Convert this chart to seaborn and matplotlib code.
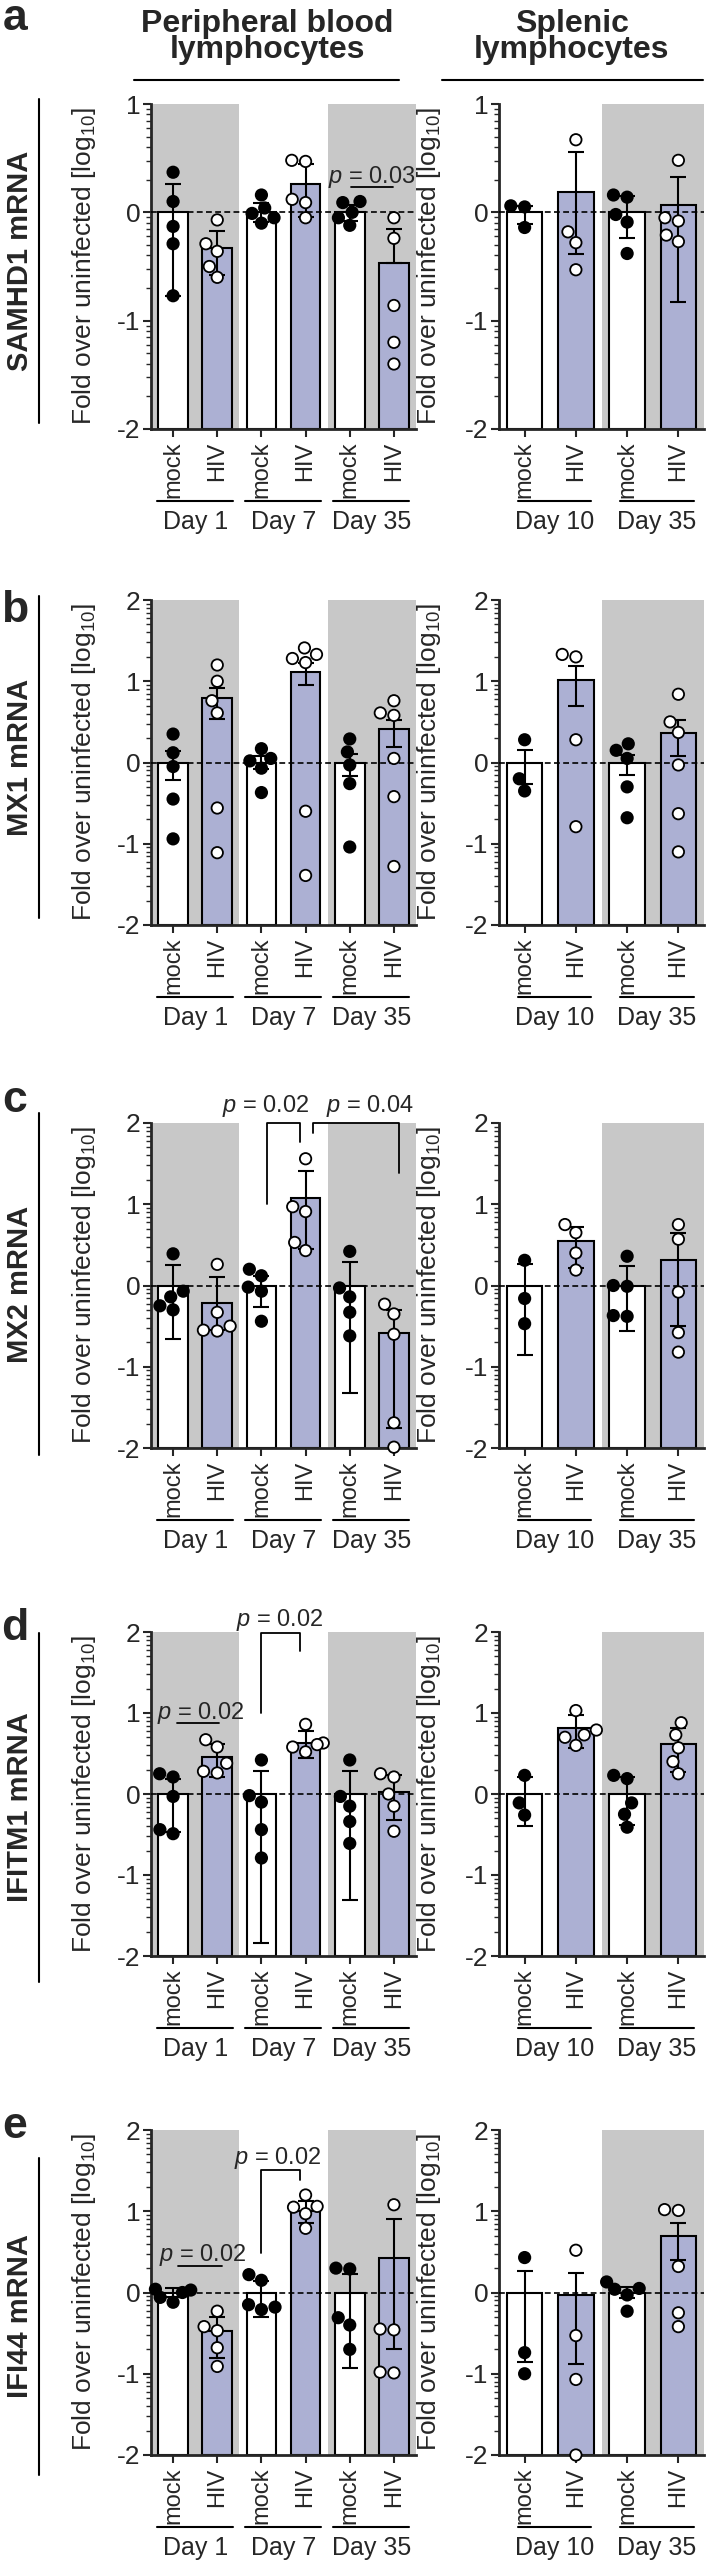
import numpy as np
import pandas as pd
import seaborn as sns
import matplotlib.pyplot as plt
import matplotlib.transforms as mtransforms
from matplotlib.lines import Line2D

# -----------------------
# Data (log10 fold over uninfected)
# -----------------------
blood_groups = ["mock", "HIV", "mock", "HIV", "mock", "HIV"]
blood_days = ["Day 1", "Day 7", "Day 35"]
spleen_groups = ["mock", "HIV", "mock", "HIV"]
spleen_days = ["Day 10", "Day 35"]
genes = ["SAMHD1 mRNA", "MX1 mRNA", "MX2 mRNA", "IFITM1 mRNA", "IFI44 mRNA"]
panel_letters = ["a", "b", "c", "d", "e"]

# SAMHD1
samhd1_blood_mean = [0, -0.33, 0, 0.26, 0, -0.47]
samhd1_blood_lo = [-0.77, -0.58, -0.09, -0.04, -0.08, -0.47]
samhd1_blood_hi = [0.26, -0.17, 0.09, 0.45, 0.07, -0.15]
samhd1_blood_pts = [[0.37, 0.10, -0.13, -0.29, -0.77],
                    [-0.07, -0.29, -0.36, -0.50, -0.60],
                    [0.16, 0.04, -0.01, -0.05, -0.10],
                    [0.48, 0.47, 0.12, 0.09, -0.05],
                    [0.10, 0.09, 0.00, -0.05, -0.12],
                    [-0.05, -0.24, -0.86, -1.20, -1.40]]
samhd1_spleen_mean = [0, 0.19, 0, 0.07]
samhd1_spleen_lo = [-0.11, -0.38, -0.24, -0.83]
samhd1_spleen_hi = [0.06, 0.56, 0.15, 0.33]
samhd1_spleen_pts = [[0.06, 0.05, -0.14],
                     [0.67, -0.18, -0.28, -0.53],
                     [0.16, 0.14, -0.02, -0.09, -0.38],
                     [0.48, -0.05, -0.08, -0.21, -0.27]]

# MX1
mx1_blood_mean = [0, 0.79, 0, 1.12, 0, 0.41]
mx1_blood_lo = [-0.22, 0.54, -0.08, 0.95, -0.17, 0.19]
mx1_blood_hi = [0.14, 0.92, 0.08, 1.23, 0.11, 0.52]
mx1_blood_pts = [[0.35, 0.12, -0.05, -0.45, -0.94],
                 [1.20, 1.00, 0.76, 0.61, -0.56, -1.11],
                 [0.17, 0.05, 0.02, -0.07, -0.37],
                 [1.41, 1.33, 1.28, 1.23, -0.60, -1.39],
                 [0.29, 0.13, -0.03, -0.26, -1.04],
                 [0.76, 0.61, 0.58, 0.05, -0.42, -1.28]]
mx1_spleen_mean = [0, 1.02, 0, 0.36]
mx1_spleen_lo = [-0.27, 0.70, -0.15, 0.08]
mx1_spleen_hi = [0.15, 1.19, 0.09, 0.52]
mx1_spleen_pts = [[0.28, -0.20, -0.35],
                  [1.33, 1.30, 0.28, -0.79],
                  [0.23, 0.15, 0.05, -0.30, -0.68],
                  [0.84, 0.50, 0.37, -0.03, -0.63, -1.10]]

# MX2
mx2_blood_mean = [0, -0.21, 0, 1.08, 0, -0.59]
mx2_blood_lo = [-0.66, -0.55, -0.26, 0.45, -1.32, -1.75]
mx2_blood_hi = [0.25, 0.10, 0.12, 1.41, 0.29, -0.30]
mx2_blood_pts = [[0.39, -0.07, -0.14, -0.25, -0.30],
                 [0.26, -0.33, -0.50, -0.55, -0.56],
                 [0.20, 0.12, -0.02, -0.07, -0.44],
                 [1.56, 0.97, 0.91, 0.53, 0.43],
                 [0.42, -0.03, -0.14, -0.33, -0.62],
                 [-0.23, -0.35, -0.60, -1.69, -1.99]]
mx2_spleen_mean = [0, 0.55, 0, 0.32]
mx2_spleen_lo = [-0.85, 0.22, -0.56, -0.50]
mx2_spleen_hi = [0.27, 0.72, 0.24, 0.65]
mx2_spleen_pts = [[0.31, -0.16, -0.47],
                  [0.75, 0.65, 0.40, 0.19],
                  [0.36, 0.00, -0.01, -0.37, -0.38],
                  [0.75, 0.57, -0.08, -0.58, -0.82]]

# IFITM1
ifitm1_blood_mean = [0, 0.46, 0, 0.63, 0, 0.03]
ifitm1_blood_lo = [-0.47, 0.21, -1.84, 0.44, -1.31, -0.32]
ifitm1_blood_hi = [0.19, 0.62, 0.29, 0.78, 0.29, 0.23]
ifitm1_blood_pts = [[0.25, 0.21, -0.03, -0.44, -0.49],
                    [0.67, 0.58, 0.38, 0.28, 0.26],
                    [0.42, -0.02, -0.10, -0.44, -0.79],
                    [0.86, 0.63, 0.61, 0.58, 0.52],
                    [0.42, -0.03, -0.15, -0.34, -0.61],
                    [0.25, 0.21, 0.00, -0.15, -0.46]]
ifitm1_spleen_mean = [0, 0.82, 0, 0.62]
ifitm1_spleen_lo = [-0.40, 0.57, -0.38, 0.27]
ifitm1_spleen_hi = [0.21, 0.97, 0.21, 0.82]
ifitm1_spleen_pts = [[0.23, -0.11, -0.26],
                     [1.03, 0.79, 0.73, 0.70, 0.60],
                     [0.23, 0.19, -0.11, -0.25, -0.41],
                     [0.88, 0.73, 0.57, 0.40, 0.25]]

# IFI44
ifi44_blood_mean = [0, -0.47, 0, 1.00, 0, 0.42]
ifi44_blood_lo = [-0.05, -0.81, -0.30, 0.85, -0.93, -0.70]
ifi44_blood_hi = [0.05, -0.30, 0.14, 1.13, 0.23, 0.91]
ifi44_blood_pts = [[0.04, 0.03, 0.00, -0.06, -0.12],
                   [-0.23, -0.42, -0.47, -0.68, -0.91],
                   [0.22, 0.15, -0.15, -0.18, -0.21],
                   [1.20, 1.06, 1.05, 0.97, 0.79],
                   [0.30, 0.29, -0.31, -0.40, -0.70],
                   [1.08, -0.45, -0.46, -0.98, -0.99]]
ifi44_spleen_mean = [0, -0.03, 0, 0.69]
ifi44_spleen_lo = [-0.85, -0.88, -0.07, 0.40]
ifi44_spleen_hi = [0.26, 0.24, 0.07, 0.85]
ifi44_spleen_pts = [[0.43, -0.74, -1.00],
                    [0.52, -0.53, -1.07, -2.00],
                    [0.13, 0.05, 0.04, -0.03, -0.23],
                    [1.02, 1.01, 0.32, -0.25, -0.42]]

blood_sets = [
    (samhd1_blood_mean, samhd1_blood_lo, samhd1_blood_hi, samhd1_blood_pts),
    (mx1_blood_mean, mx1_blood_lo, mx1_blood_hi, mx1_blood_pts),
    (mx2_blood_mean, mx2_blood_lo, mx2_blood_hi, mx2_blood_pts),
    (ifitm1_blood_mean, ifitm1_blood_lo, ifitm1_blood_hi, ifitm1_blood_pts),
    (ifi44_blood_mean, ifi44_blood_lo, ifi44_blood_hi, ifi44_blood_pts),
]
spleen_sets = [
    (samhd1_spleen_mean, samhd1_spleen_lo, samhd1_spleen_hi, samhd1_spleen_pts),
    (mx1_spleen_mean, mx1_spleen_lo, mx1_spleen_hi, mx1_spleen_pts),
    (mx2_spleen_mean, mx2_spleen_lo, mx2_spleen_hi, mx2_spleen_pts),
    (ifitm1_spleen_mean, ifitm1_spleen_lo, ifitm1_spleen_hi, ifitm1_spleen_pts),
    (ifi44_spleen_mean, ifi44_spleen_lo, ifi44_spleen_hi, ifi44_spleen_pts),
]
y_top = [1, 2, 2, 2, 2]

# -----------------------
# Style
# -----------------------
sns.set_theme(style="ticks")
plt.rcParams["font.family"] = ["Liberation Sans", "DejaVu Sans"]
plt.rcParams["mathtext.fontset"] = "custom"
plt.rcParams["mathtext.rm"] = "Liberation Sans"
plt.rcParams["mathtext.it"] = "Liberation Sans:italic"
plt.rcParams["axes.unicode_minus"] = False

GRAY = "#c8c8c8"
LAV = "#a6abd9"
BAR_COLORS = {"mock": "white", "HIV": LAV}
PT_COLORS = {"mock": "black", "HIV": "white"}
FS = 17

W, H = 709, 2565
fig = plt.figure(figsize=(W / 100, H / 100), dpi=100)

# pixel rows of each panel (top, bottom of the y axis)
rows = [(104, 429), (600, 925), (1123, 1448), (1632, 1956), (2130, 2455)]


def px_axes(x0, x1, y0, y1):
    return fig.add_axes([x0 / W, 1 - y1 / H, (x1 - x0) / W, (y1 - y0) / H])


def draw_group(ax, groups, days, data, shaded, ymin, ymax, bar_w, span, day_x, h_px):
    means, lo, hi, pts = data
    means, lo, hi = np.array(means), np.array(lo), np.array(hi)
    n = len(groups)
    cats = [f"{g}_{i}" for i, g in enumerate(groups)]

    for a, b in shaded:
        ax.axvspan(a, b, color=GRAY, lw=0, zorder=0)

    bars = pd.DataFrame({"cat": cats, "grp": groups, "height": means - ymin})
    sns.barplot(data=bars, x="cat", y="height", hue="grp", order=cats,
                palette=BAR_COLORS, width=bar_w, edgecolor="black",
                linewidth=1.5, bottom=ymin, legend=False, ax=ax, zorder=2)

    ax.axhline(0, color="black", lw=1.2, ls=(0, (3.5, 2)), zorder=3)

    ax.errorbar(np.arange(n), means, yerr=[means - lo, hi - means], fmt="none",
                ecolor="black", elinewidth=1.5, capsize=6, capthick=1.5, zorder=4)

    rows_df = pd.DataFrame([(cats[i], groups[i], v) for i in range(n) for v in pts[i]],
                           columns=["cat", "grp", "val"])
    sns.swarmplot(data=rows_df, x="cat", y="val", hue="grp", order=cats,
                  palette=PT_COLORS, size=8.2, edgecolor="black", linewidth=1.3,
                  legend=False, ax=ax, zorder=5, clip_on=False)

    ax.set_xlim(-0.5, n - 0.5)
    ax.set_ylim(ymin, ymax)
    ax.set_yticks(list(range(ymin, ymax + 1)))
    ax.set_yticklabels([str(v) for v in range(ymin, ymax + 1)])
    ax.set_yticks([k + np.log10(m) for k in range(ymin, ymax) for m in range(2, 10)], minor=True)
    ax.set_xticks(range(n))
    ax.set_xticklabels(groups)
    ax.tick_params(axis="y", which="major", length=6, width=1.5, labelsize=19, pad=1.5)
    ax.tick_params(axis="y", which="minor", length=3.5, width=1)
    ax.tick_params(axis="x", length=6, width=1.5, labelsize=FS, rotation=90, pad=3)
    sns.despine(ax=ax)
    for s in ["left", "bottom"]:
        ax.spines[s].set_linewidth(2)
    ax.set_xlabel("")
    ax.set_ylabel("Fold over uninfected [log$_{10}$]", fontsize=19)

    trans = mtransforms.blended_transform_factory(ax.transData, ax.transAxes)
    for j, day in enumerate(days):
        ax.plot([2 * j + span[0], 2 * j + span[1]], [-72 / h_px] * 2, transform=trans,
                color="black", lw=1.5, clip_on=False)
        ax.text(2 * j + day_x, -93 / h_px, day, transform=trans, ha="center",
                va="center", fontsize=18)


def p_line(ax, x0, x1, y, text, tx, ty):
    ax.plot([x0, x1], [y, y], color="black", lw=1.3, clip_on=False, zorder=6)
    ax.text(tx, ty, text, ha="center", va="baseline", fontsize=FS, clip_on=False)


def p_bracket(ax, x0, x1, y0, ytop, y1, text, tx, ty):
    ax.plot([x0, x0, x1, x1], [y0, ytop, ytop, y1], color="black", lw=1.3,
            clip_on=False, zorder=6)
    ax.text(tx, ty, text, ha="center", va="baseline", fontsize=FS, clip_on=False)


for r, (top, bot) in enumerate(rows):
    ymin, ymax = -2, y_top[r]
    h_px = bot - top

    ax_l = px_axes(151, 416, top, bot)
    draw_group(ax_l, blood_groups, blood_days, blood_sets[r],
               [(-0.5, 1.5), (3.5, 5.5)], ymin, ymax, 0.67, (-0.37, 1.35), 0.5, h_px)
    ax_l.yaxis.set_label_coords(-0.2, 0.5)

    ax_r = px_axes(499, 704, top, bot)
    draw_group(ax_r, spleen_groups, spleen_days, spleen_sets[r],
               [(1.5, 3.5)], ymin, ymax, 0.69, (-0.13, 1.30), 0.58, h_px)
    ax_r.yaxis.set_label_coords(-0.273, 0.5)

    # significance marks
    if r == 0:
        p_line(ax_l, 4.02, 4.97, 0.23, "$\\mathit{p}$ = 0.03", 4.5, 0.27)
    elif r == 2:
        p_bracket(ax_l, 2.12, 2.87, 1.0, 2.0, 1.77, "$\\mathit{p}$ = 0.02", 2.1, 2.13)
        p_bracket(ax_l, 3.17, 5.11, 1.88, 2.0, 1.39, "$\\mathit{p}$ = 0.04", 4.46, 2.13)
    elif r == 3:
        p_line(ax_l, 0.08, 1.03, 0.88, "$\\mathit{p}$ = 0.02", 0.62, 0.93)
        p_bracket(ax_l, 2.0, 2.87, 1.0, 1.99, 1.77, "$\\mathit{p}$ = 0.02", 2.41, 2.08)
    elif r == 4:
        p_line(ax_l, 0.12, 1.10, 0.33, "$\\mathit{p}$ = 0.02", 0.67, 0.39)
        p_bracket(ax_l, 2.0, 2.87, 0.49, 1.51, 1.38, "$\\mathit{p}$ = 0.02", 2.37, 1.58)

# row labels with side rules
row_lines = [(99, 423), (596, 918), (1113, 1455), (1633, 1982), (2158, 2475)]
letter_y = [19, 611, 1100, 1628, 2127]
for r, (y0, y1) in enumerate(row_lines):
    fig.add_artist(Line2D([39 / W, 39 / W], [1 - y0 / H, 1 - y1 / H],
                          transform=fig.transFigure, color="black", lw=1.5))
    fig.text(20 / W, 1 - (y0 + y1) / 2 / H, genes[r], rotation=90, ha="center",
             va="center", fontsize=21, fontweight="bold")
    fig.text(15 / W, 1 - letter_y[r] / H, panel_letters[r], ha="center", va="center",
             fontsize=32, fontweight="bold")

# column headers
for cx, line1 in [(267, "Peripheral blood"), (572, "Splenic")]:
    fig.text(cx / W, 1 - 32 / H, line1, ha="center", va="baseline",
             fontsize=23, fontweight="bold")
    fig.text(cx / W, 1 - 58 / H, "lymphocytes", ha="center", va="baseline",
             fontsize=23, fontweight="bold")
fig.add_artist(Line2D([134 / W, 399 / W], [1 - 80 / H] * 2, transform=fig.transFigure,
                      color="black", lw=1.5))
fig.add_artist(Line2D([442 / W, 703 / W], [1 - 80 / H] * 2, transform=fig.transFigure,
                      color="black", lw=1.5))

fig.savefig("out.png", dpi=100)
plt.close(fig)
